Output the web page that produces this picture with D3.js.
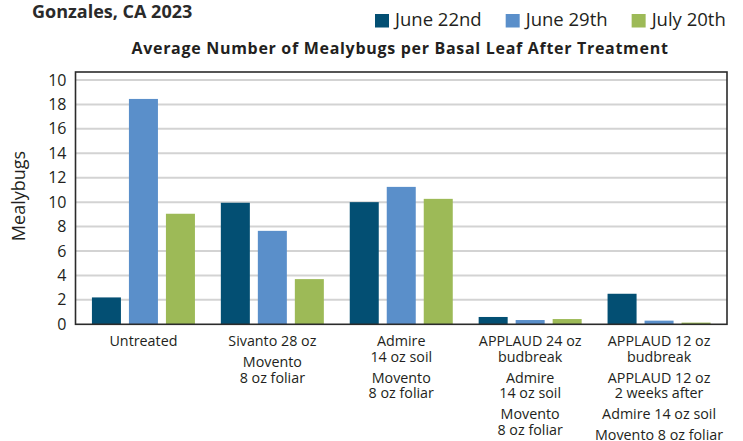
<!DOCTYPE html>
<html>
<head>
<meta charset="utf-8">
<script src="https://cdn.jsdelivr.net/npm/d3@7"></script>
<style>
  html, body { margin: 0; padding: 0; background: #fff; }
  svg { display: block; font-family: "Open Sans", "Noto Sans", sans-serif; }
</style>
</head>
<body>
<svg id="chart" width="743" height="441"></svg>
<script>
// data
const treatments = ["Untreated", "Sivanto", "Admire", "APPLAUD 24", "APPLAUD 12"];
const series = ["June 22nd", "June 29th", "July 20th"];
const colors = ["#034f73", "#5a8fca", "#9dba57"];

const june22 = [2.2, 9.95, 10.0, 0.6, 2.5];
const june29 = [18.45, 7.65, 11.25, 0.35, 0.3];
const july20 = [9.05, 3.7, 10.27, 0.43, 0.14];

// tick values and their printed labels (top label reads "10" in the original)
const yTicks = [0, 2, 4, 6, 8, 10, 12, 14, 16, 18, 20];
const yTickLabels = ["0", "2", "4", "6", "8", "10", "12", "14", "16", "18", "10"];

// x labels: each category has blocks of lines
const catLabels = [
  [["Untreated"]],
  [["Sivanto 28 oz"], ["Movento", "8 oz foliar"]],
  [["Admire", "14 oz soil"], ["Movento", "8 oz foliar"]],
  [["APPLAUD 24 oz", "budbreak"], ["Admire", "14 oz soil"], ["Movento", "8 oz foliar"]],
  [["APPLAUD 12 oz", "budbreak"], ["APPLAUD 12 oz", "2 weeks after"], ["Admire 14 oz soil"], ["Movento 8 oz foliar"]]
];

const values = [june22, june29, july20];
const rows = treatments.map((t, i) => ({ t, vals: series.map((s, j) => ({ s, v: values[j][i], c: colors[j] })) }));

const svg = d3.select("#chart");
const plotL = 75.5, plotR = 727, plotT = 72, plotB = 324.3;
const textColor = "#231f20";

const x0 = d3.scaleBand().domain(treatments).range([plotL, plotR]).paddingOuter(0.027).paddingInner(0);
const x1 = d3.scaleBand().domain(series).range([0, x0.bandwidth()]).paddingInner(0.216).paddingOuter(0.35);
const y = d3.scaleLinear().domain([0, 20]).range([plotB, plotB - 244.3]);

// gridlines
svg.append("g")
  .selectAll("line")
  .data(yTicks.filter(d => d > 0))
  .enter().append("line")
  .attr("x1", plotL).attr("x2", plotR)
  .attr("y1", d => y(d)).attr("y2", d => y(d))
  .attr("stroke", "#d3d3d3")
  .attr("stroke-width", 2);

// bars
const grp = svg.append("g").selectAll("g")
  .data(rows)
  .enter().append("g")
  .attr("transform", d => `translate(${x0(d.t)},0)`);

grp.selectAll("rect")
  .data(d => d.vals)
  .enter().append("rect")
  .attr("x", d => x1(d.s))
  .attr("width", x1.bandwidth())
  .attr("y", d => y(d.v))
  .attr("height", d => y(0) - y(d.v))
  .attr("fill", d => d.c);

// frame
svg.append("rect")
  .attr("x", plotL).attr("y", plotT)
  .attr("width", plotR - plotL).attr("height", plotB - plotT)
  .attr("fill", "none")
  .attr("stroke", "#2b2b2b")
  .attr("stroke-width", 1.6);

// y axis labels
const yAxis = d3.axisLeft(y).tickValues(yTicks)
  .tickFormat((d, i) => yTickLabels[i])
  .tickSize(0).tickPadding(9);
const ya = svg.append("g").attr("transform", `translate(${plotL},0)`).call(yAxis);
ya.select(".domain").remove();
ya.selectAll("text")
  .attr("fill", textColor)
  .style("font-size", "16px")
  .style("font-family", "'Open Sans', sans-serif");

svg.append("text")
  .attr("transform", "translate(25,196) rotate(-90)")
  .attr("text-anchor", "middle")
  .attr("fill", textColor)
  .style("font-size", "18px")
  .text("Mealybugs");

// category labels: line after line, a small extra gap between blocks
const lineGap = 15.5, blockGap = 5.5;
catLabels.forEach((blocks, i) => {
  const cx = x0(treatments[i]) + x0.bandwidth() / 2;
  let yy = 346;
  blocks.forEach(lines => {
    lines.forEach(ln => {
      svg.append("text")
        .attr("x", cx)
        .attr("y", yy)
        .attr("text-anchor", "middle")
        .attr("fill", textColor)
        .style("font-size", "14.3px")
        .text(ln);
      yy += lineGap;
    });
    yy += blockGap;
  });
});

// headings
svg.append("text")
  .attr("x", 32).attr("y", 18)
  .attr("fill", "#2a2a2a")
  .style("font-size", "18px")
  .style("font-weight", "bold")
  .text("Gonzales, CA 2023");

svg.append("text")
  .attr("x", 400).attr("y", 54)
  .attr("text-anchor", "middle")
  .attr("fill", textColor)
  .style("font-size", "16px")
  .style("font-weight", "bold")
  .style("letter-spacing", "0.7px")
  .text("Average Number of Mealybugs per Basal Leaf After Treatment");

// legend
let lx = 375;
series.forEach((s, i) => {
  svg.append("rect")
    .attr("x", lx).attr("y", 14)
    .attr("width", 14).attr("height", 13.5)
    .attr("fill", colors[i]);
  const t = svg.append("text")
    .attr("x", lx + 20).attr("y", 26)
    .attr("fill", textColor)
    .style("font-size", "18.5px")
    .text(s);
  lx += 20 + t.node().getComputedTextLength() + 24;
});
</script>
</body>
</html>
